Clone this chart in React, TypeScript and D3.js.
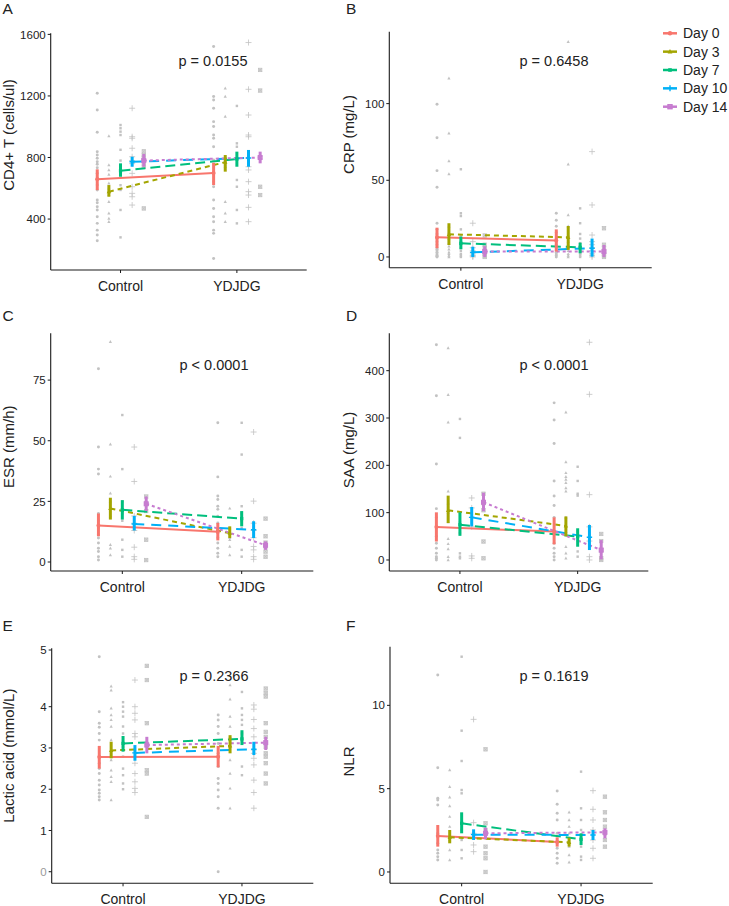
import React from "react";
import * as d3 from "d3";

// ---------- DATA ----------
const groups = ["Control", "YDJDG"];
const days = ["Day 0", "Day 3", "Day 7", "Day 10", "Day 14"];
const dayColors = ["#F8766D", "#A3A500", "#00BF7D", "#00B0F6", "#C77CD0"];

// Panel A: CD4+ T
const cd4Control = [
  [1217, 1109, 964, 838, 816, 795, 773, 756, 734, 697, 665, 621, 589, 524, 506, 480, 459, 415, 372, 328, 296, 259],
  [940, 751, 719, 690, 632, 600, 578, 560, 513, 437, 404, 383],
  [1011, 990, 968, 946, 850, 780, 740, 700, 686, 620, 589, 459, 281],
  [1120, 935, 925, 860, 805, 780, 760, 697, 610, 567, 545, 491],
  [840, 816, 800, 784, 760, 740, 469],
];
const cd4YDJDG = [
  [1521, 1196, 1174, 1120, 1033, 1001, 946, 925, 870, 784, 697, 643, 610, 524, 469, 415, 383, 328, 307, 144],
  [1250, 1196, 1066, 805, 740, 513, 437, 383],
  [1135, 892, 870, 654, 610, 459, 372],
  [1547, 1243, 1076, 946, 935, 740, 719, 643, 578, 556, 476, 383],
  [1369, 1235, 610, 556],
];
const cd4MeanControl = [658, 578, 714, 772, 780];
const cd4LowControl = [588, 545, 675, 740, 740];
const cd4HighControl = [723, 621, 762, 805, 823];
const cd4MeanYDJDG = [700, 770, 790, 797, 800];
const cd4LowYDJDG = [621, 708, 740, 740, 762];
const cd4HighYDJDG = [766, 816, 838, 849, 838];

// Panel B: CRP
const crpControl = [
  [99.6, 77.8, 56.3, 45.4, 22, 18, 15, 12, 10, 8, 6, 5, 4, 3, 2, 1, 0.5, 0],
  [116.5, 80.6, 62.6, 54.1, 20, 16, 12, 9, 7, 5, 3, 2, 1, 0],
  [57.2, 28.5, 26.7, 18, 14, 10, 8, 6, 4, 2, 1, 0],
  [22, 10, 6, 4, 3, 2, 1, 0.5, 0],
  [14, 8, 6, 4, 2, 1, 0],
];
const crpYDJDG = [
  [28.5, 24, 20, 16, 12, 10, 8, 6, 4, 3, 2, 1, 0],
  [140.4, 60.4, 27.4, 20, 14, 10, 8, 6, 4, 2, 1, 0],
  [31.7, 22, 15, 12, 9, 6, 4, 3, 2, 1, 0],
  [68.7, 33.9, 14.3, 10, 8, 6, 4, 2, 1, 0],
  [18.7, 8, 6, 4, 2, 1, 0],
];
const crpMeanControl = [12.8, 14.8, 8.9, 3, 3.5];
const crpLowControl = [5.7, 7.8, 5, 0, 0];
const crpHighControl = [19.1, 22, 13.3, 6.7, 7];
const crpMeanYDJDG = [10.7, 12.8, 6.3, 5.7, 3.5];
const crpLowYDJDG = [3.5, 4.6, 2.4, 0.2, 0];
const crpHighYDJDG = [18, 20.2, 9.3, 12, 7.8];

// Panel C: ESR
const esrControl = [
  [79.7, 47.4, 38.3, 36.3, 20, 17, 14, 11.3, 9.9, 7.8, 5.7, 4.3, 2.2, 0.8],
  [90.8, 48.5, 35.3, 28.3, 25, 22, 19, 7.1, 5.7, 2.9],
  [60.6, 38.3, 25, 20, 17, 9.2, 5, 2.2],
  [47.4, 33.2, 19, 16, 13, 6.1, 2.2, 1.1],
  [27, 24, 21, 9.2, 0.8],
];
const esrYDJDG = [
  [57.4, 35.1, 27.2, 25.8, 23, 21.7, 18.9, 16.1, 12, 10, 7.8, 5.7, 3.6, 2.2],
  [22.1, 14, 12, 10, 9.2, 6.4, 2.9],
  [57.4, 44.3, 23, 20, 17, 14, 5, 2.2],
  [53.6, 25.1, 16, 13, 10, 6.4, 5, 2.2, 1.1],
  [17.9, 10.6, 8, 6.4, 4.3, 2.2],
];
const esrMeanControl = [15.1, 22.1, 21.5, 15.7, 24];
const esrLowControl = [10.6, 17.5, 17.5, 13, 21];
const esrHighControl = [20, 26.5, 25.5, 19, 27];
const esrMeanYDJDG = [12.5, 11.9, 17.9, 13.3, 6.9];
const esrLowYDJDG = [8.9, 9.9, 14.7, 9.9, 5];
const esrHighYDJDG = [16.1, 14.7, 21, 16.8, 8.5];

// Panel D: SAA
const saaControl = [
  [455, 347, 203, 108.5, 90, 70, 50, 35.5, 25, 14, 7, 3.5, 0],
  [448, 349, 291, 145, 120, 100, 80, 45, 34, 23, 7, 0],
  [298, 258, 100, 80, 57, 14, 7, 3.5],
  [131, 110, 90, 70, 8.5, 3.5],
  [140, 120, 105, 39, 3.5],
];
const saaYDJDG = [
  [332, 296, 246, 167, 135, 115, 90, 60, 35.5, 25, 14, 7, 0],
  [312, 207, 184, 176, 170, 163, 152, 145, 90, 60, 28, 14, 3.5],
  [197, 167, 140, 136, 60, 40, 18, 7],
  [460, 350, 138, 70, 40, 7, 0],
  [55, 40, 20, 3.5, 0],
];
const saaMeanControl = [69.5, 105, 74.5, 90, 122];
const saaLowControl = [39, 78, 51, 71, 103];
const saaHighControl = [100.7, 136, 100.7, 112, 142];
const saaMeanYDJDG = [60, 72, 49.6, 48, 21];
const saaLowYDJDG = [33, 50, 28, 21, 1.4];
const saaHighYDJDG = [90, 92, 67, 74, 42];

// Panel E: Lactic acid
const lacControl = [
  [4.88, 3.88, 3.6, 3.5, 3.35, 3.19, 2.79, 2.63, 2.5, 2.38, 2.22, 2.1, 1.98, 1.9, 1.82, 1.74],
  [4.36, 4.29, 3.96, 3.8, 3.68, 3.52, 3.19, 2.95, 2.71, 2.46, 2.3, 2.18, 1.74],
  [4.08, 4.0, 3.88, 3.76, 3.52, 3.35, 3.03, 2.79, 2.5, 2.34, 2.14, 2.0],
  [4.47, 4.0, 3.84, 3.68, 3.35, 3.27, 2.63, 2.38, 2.18, 2.02, 1.92],
  [4.72, 4.47, 3.6, 3.1, 2.46, 2.38, 1.33],
];
const lacYDJDG = [
  [3.8, 3.68, 3.52, 3.35, 3.11, 2.87, 2.55, 2.26, 2.14, 1.98, 1.82, 1.54, 0],
  [4.38, 4.13, 3.76, 3.52, 3.27, 2.71, 2.38, 2.02, 1.54],
  [4.26, 3.96, 3.8, 3.68, 3.56, 3.35, 3.19, 2.55, 2.34],
  [4.03, 3.94, 3.69, 3.47, 3.27, 2.95, 2.87, 2.75, 2.59, 2.22, 1.92, 1.54],
  [4.32, 4.24, 4.18, 3.6, 3.39, 3.27, 3.03, 2.87, 2.79, 2.63, 2.38, 2.14],
];
const lacMeanControl = [2.78, 2.94, 3.11, 2.88, 3.07];
const lacLowControl = [2.5, 2.75, 2.91, 2.69, 2.87];
const lacHighControl = [3.05, 3.15, 3.29, 3.07, 3.27];
const lacMeanYDJDG = [2.79, 3.05, 3.22, 2.97, 3.13];
const lacLowYDJDG = [2.53, 2.87, 3.07, 2.83, 2.95];
const lacHighYDJDG = [3.05, 3.31, 3.43, 3.15, 3.27];

// Panel F: NLR
const nlrControl = [
  [11.82, 6.26, 4.42, 4.32, 4.02, 2.32, 1.72, 1.32, 1.12, 0.92, 0.72],
  [6.12, 5.12, 4.48, 3.96, 3.32, 2.72, 1.92, 1.32, 0.72],
  [12.92, 8.48, 6.66, 4.92, 4.72, 2.52, 1.92, 1.32, 0.82],
  [9.16, 2.96, 2.32, 1.62, 1.22],
  [7.36, 2.92, 2.52, 1.52, 1.12, 0.82, 0],
];
const nlrYDJDG = [
  [4.86, 4.06, 3.52, 3.12, 2.32, 1.42, 1.12, 0.82, 0.52],
  [3.58, 3.12, 2.72, 2.32, 1.52, 1.02, 0.58],
  [6.02, 3.82, 3.12, 2.52, 1.52, 0.92, 0.72],
  [4.88, 3.76, 3.12, 2.52, 1.92, 1.42, 0.82],
  [4.52, 3.58, 3.12, 2.72, 2.32, 1.92, 1.52],
];
const nlrMeanControl = [2.16, 2.08, 2.92, 2.24, 2.32];
const nlrLowControl = [1.52, 1.72, 2.32, 1.92, 1.96];
const nlrHighControl = [2.82, 2.52, 3.58, 2.56, 2.66];
const nlrMeanYDJDG = [1.8, 1.78, 1.96, 2.22, 2.38];
const nlrLowYDJDG = [1.52, 1.52, 1.62, 1.92, 2.02];
const nlrHighYDJDG = [2.08, 2.06, 2.32, 2.52, 2.62];

const pLabels = ["p = 0.0155", "p = 0.6458", "p < 0.0001", "p < 0.0001", "p = 0.2366", "p = 0.1619"];
const yTitles = ["CD4+ T (cells/ul)", "CRP (mg/L)", "ESR (mm/h)", "SAA (mg/L)", "Lactic acid (mmol/L)", "NLR"];
const panelLetters = ["A", "B", "C", "D", "E", "F"];
const ticksA = [400, 800, 1200, 1600];
const ticksB = [0, 50, 100];
const ticksC = [0, 25, 50, 75];
const ticksD = [0, 100, 200, 300, 400];
const ticksE = [0, 1, 2, 3, 4, 5];
const ticksF = [0, 5, 10];

// ---------- LAYOUT ----------
const FONT = "'Liberation Sans', Arial, Helvetica, sans-serif";
const dodge = [-0.2, -0.1, 0, 0.1, 0.2];
const dashes = [null, "5,4", "10,5", "10,7", "3,3"];
const GREY = "#c2c2c2";

type PanelCfg = {
  box: { left: number; right: number; top: number; bottom: number };
  yDomain: number[];
  yRange?: number[];
  ticks: number[];
  ctrl: number[][];
  ydj: number[][];
  mC: number[]; lC: number[]; hC: number[];
  mY: number[]; lY: number[]; hY: number[];
  p: string; pPos: [number, number];
  title: string; titlePos: [number, number];
  letter: string; letterPos: [number, number];
  greyZero?: boolean;
};

function Shape({ day, x, y, color, s, grey }: any) {
  const sw = grey ? 0.8 : 1.4;
  if (day === 0) return <circle cx={x} cy={y} r={s * 0.55} fill={color} />;
  if (day === 1) {
    const h = s * 1.0;
    return <path d={`M${x},${y - h * 0.65}L${x + h * 0.6},${y + h * 0.45}L${x - h * 0.6},${y + h * 0.45}Z`} fill={color} />;
  }
  if (day === 2) return <rect x={x - s * 0.45} y={y - s * 0.45} width={s * 0.9} height={s * 0.9} fill={color} />;
  if (day === 3)
    return (
      <path d={`M${x - s * 0.75},${y}H${x + s * 0.75}M${x},${y - s * 0.75}V${y + s * 0.75}`} stroke={color} strokeWidth={sw} fill="none" />
    );
  const r = s * 0.5;
  return (
    <g stroke={color} strokeWidth={sw} fill={grey ? color : "none"} fillOpacity={grey ? 0.6 : 0}>
      <rect x={x - r} y={y - r} width={2 * r} height={2 * r} />
      <path d={`M${x - r},${y - r}L${x + r},${y + r}M${x - r},${y + r}L${x + r},${y - r}`} />
    </g>
  );
}

function Panel({ cfg }: { cfg: PanelCfg }) {
  const { box } = cfg;
  const x = d3.scaleLinear().domain([0.4, 2.6]).range([box.left, box.right]);
  const y = d3
    .scaleLinear()
    .domain(cfg.yDomain)
    .range(cfg.yRange || [box.bottom, box.top]);
  const sets = [cfg.ctrl, cfg.ydj];
  const means = [cfg.mC, cfg.mY];
  const lows = [cfg.lC, cfg.lY];
  const highs = [cfg.hC, cfg.hY];
  const xs = (g: number, d: number) => x(g + 1 + dodge[d]);
  return (
    <g fontFamily={FONT}>
      {sets.map((set, g) =>
        set.map((vals, d) =>
          vals.map((v, i) => <Shape key={`${g}-${d}-${i}`} day={d} x={xs(g, d)} y={y(v)} color={GREY} s={d === 3 ? 4 : d === 4 ? 3.4 : 2.7} grey />)
        )
      )}
      {days.map((_, d) => (
        <line
          key={`l${d}`}
          x1={xs(0, d)}
          y1={y(cfg.mC[d])}
          x2={xs(1, d)}
          y2={y(cfg.mY[d])}
          stroke={dayColors[d]}
          strokeWidth={2}
          strokeDasharray={dashes[d] || undefined}
        />
      ))}
      {[0, 1].map((g) =>
        days.map((_, d) => (
          <g key={`e${g}-${d}`}>
            <line x1={xs(g, d)} x2={xs(g, d)} y1={y(lows[g][d])} y2={y(highs[g][d])} stroke={dayColors[d]} strokeWidth={3} />
            <Shape day={d} x={xs(g, d)} y={y(means[g][d])} color={dayColors[d]} s={3.6} />
          </g>
        ))
      )}
      <line x1={box.left} x2={box.left} y1={box.top} y2={box.bottom} stroke="#1a1a1a" strokeWidth={1.1} />
      <line x1={box.left} x2={box.right} y1={box.bottom} y2={box.bottom} stroke="#1a1a1a" strokeWidth={1.1} />
      {cfg.ticks.map((t) => (
        <g key={`t${t}`}>
          <line x1={box.left - 3} x2={box.left} y1={y(t)} y2={y(t)} stroke="#1a1a1a" strokeWidth={1} />
          <text
            x={box.left - 5}
            y={y(t)}
            dy="0.36em"
            textAnchor="end"
            fontSize={11.5}
            fill={cfg.greyZero && t === 0 ? "#9a9a9a" : "#222"}
          >
            {t}
          </text>
        </g>
      ))}
      {groups.map((gName, g) => (
        <g key={gName}>
          <line x1={x(g + 1)} x2={x(g + 1)} y1={box.bottom} y2={box.bottom + 3} stroke="#1a1a1a" strokeWidth={1} />
          <text x={x(g + 1)} y={box.bottom + 21} textAnchor="middle" fontSize={14} fill="#222">
            {gName}
          </text>
        </g>
      ))}
      <text x={cfg.pPos[0]} y={cfg.pPos[1]} textAnchor="middle" fontSize={14.5} fill="#222">
        {cfg.p}
      </text>
      <text
        transform={`translate(${cfg.titlePos[0]},${cfg.titlePos[1]}) rotate(-90)`}
        textAnchor="middle"
        dy="0.36em"
        fontSize={15}
        fill="#222"
      >
        {cfg.title}
      </text>
      <text x={cfg.letterPos[0]} y={cfg.letterPos[1]} fontSize={15.5} fill="#222">
        {cfg.letter}
      </text>
    </g>
  );
}

export default function App() {
  const panels: PanelCfg[] = [
    {
      box: { left: 50.7, right: 306.7, top: 33.3, bottom: 270 },
      yDomain: [69, 1607], ticks: ticksA,
      ctrl: cd4Control, ydj: cd4YDJDG,
      mC: cd4MeanControl, lC: cd4LowControl, hC: cd4HighControl,
      mY: cd4MeanYDJDG, lY: cd4LowYDJDG, hY: cd4HighYDJDG,
      p: pLabels[0], pPos: [213, 66], title: yTitles[0], titlePos: [9, 135],
      letter: panelLetters[0], letterPos: [2.5, 14],
    },
    {
      box: { left: 389.3, right: 651.7, top: 31.7, bottom: 267.7 },
      yDomain: [-7, 146.9], ticks: ticksB,
      ctrl: crpControl, ydj: crpYDJDG,
      mC: crpMeanControl, lC: crpLowControl, hC: crpHighControl,
      mY: crpMeanYDJDG, lY: crpLowYDJDG, hY: crpHighYDJDG,
      p: pLabels[1], pPos: [554, 66], title: yTitles[1], titlePos: [348.5, 134.5],
      letter: panelLetters[1], letterPos: [346, 14],
    },
    {
      box: { left: 50.7, right: 313.3, top: 333.3, bottom: 571 },
      yDomain: [-3.71, 94.3], ticks: ticksC,
      ctrl: esrControl, ydj: esrYDJDG,
      mC: esrMeanControl, lC: esrLowControl, hC: esrHighControl,
      mY: esrMeanYDJDG, lY: esrLowYDJDG, hY: esrHighYDJDG,
      p: pLabels[2], pPos: [214, 370], title: yTitles[2], titlePos: [8.5, 446.7],
      letter: panelLetters[2], letterPos: [2.5, 321],
    },
    {
      box: { left: 389.3, right: 648.3, top: 333.3, bottom: 571 },
      yDomain: [-23.3, 479], ticks: ticksD,
      ctrl: saaControl, ydj: saaYDJDG,
      mC: saaMeanControl, lC: saaLowControl, hC: saaHighControl,
      mY: saaMeanYDJDG, lY: saaLowYDJDG, hY: saaHighYDJDG,
      p: pLabels[3], pPos: [554, 370], title: yTitles[3], titlePos: [348.5, 450],
      letter: panelLetters[3], letterPos: [346, 321],
    },
    {
      box: { left: 51.7, right: 313.3, top: 648.3, bottom: 883.3 },
      yDomain: [-0.28, 4, 5.03], yRange: [883.3, 706.7, 648.3], ticks: ticksE,
      ctrl: lacControl, ydj: lacYDJDG,
      mC: lacMeanControl, lC: lacLowControl, hC: lacHighControl,
      mY: lacMeanYDJDG, lY: lacLowYDJDG, hY: lacHighYDJDG,
      p: pLabels[4], pPos: [214, 680.5], title: yTitles[4], titlePos: [8.5, 755.7],
      letter: panelLetters[4], letterPos: [2.5, 631], greyZero: true,
    },
    {
      box: { left: 390, right: 652.7, top: 646.7, bottom: 883.3 },
      yDomain: [-0.68, 13.52], ticks: ticksF,
      ctrl: nlrControl, ydj: nlrYDJDG,
      mC: nlrMeanControl, lC: nlrLowControl, hC: nlrHighControl,
      mY: nlrMeanYDJDG, lY: nlrLowYDJDG, hY: nlrHighYDJDG,
      p: pLabels[5], pPos: [554, 681], title: yTitles[5], titlePos: [348.5, 761.5],
      letter: panelLetters[5], letterPos: [346, 631],
    },
  ];
  const legendY = d3.scaleLinear().domain([0, 4]).range([33.3, 106.7]);
  return (
    <svg width={729} height={906} style={{ position: "absolute", left: 0, top: 0, background: "#fff" }}>
      <rect width={729} height={906} fill="#fff" />
      {panels.map((p, i) => (
        <Panel key={i} cfg={p} />
      ))}
      <g fontFamily={FONT}>
        {days.map((dName, d) => (
          <g key={dName}>
            <line x1={663} x2={677} y1={legendY(d)} y2={legendY(d)} stroke={dayColors[d]} strokeWidth={2.5} />
            <Shape day={d} x={670} y={legendY(d)} color={dayColors[d]} s={4} />
            <text x={683} y={legendY(d)} dy="0.36em" fontSize={14} fill="#222">
              {dName}
            </text>
          </g>
        ))}
      </g>
    </svg>
  );
}
